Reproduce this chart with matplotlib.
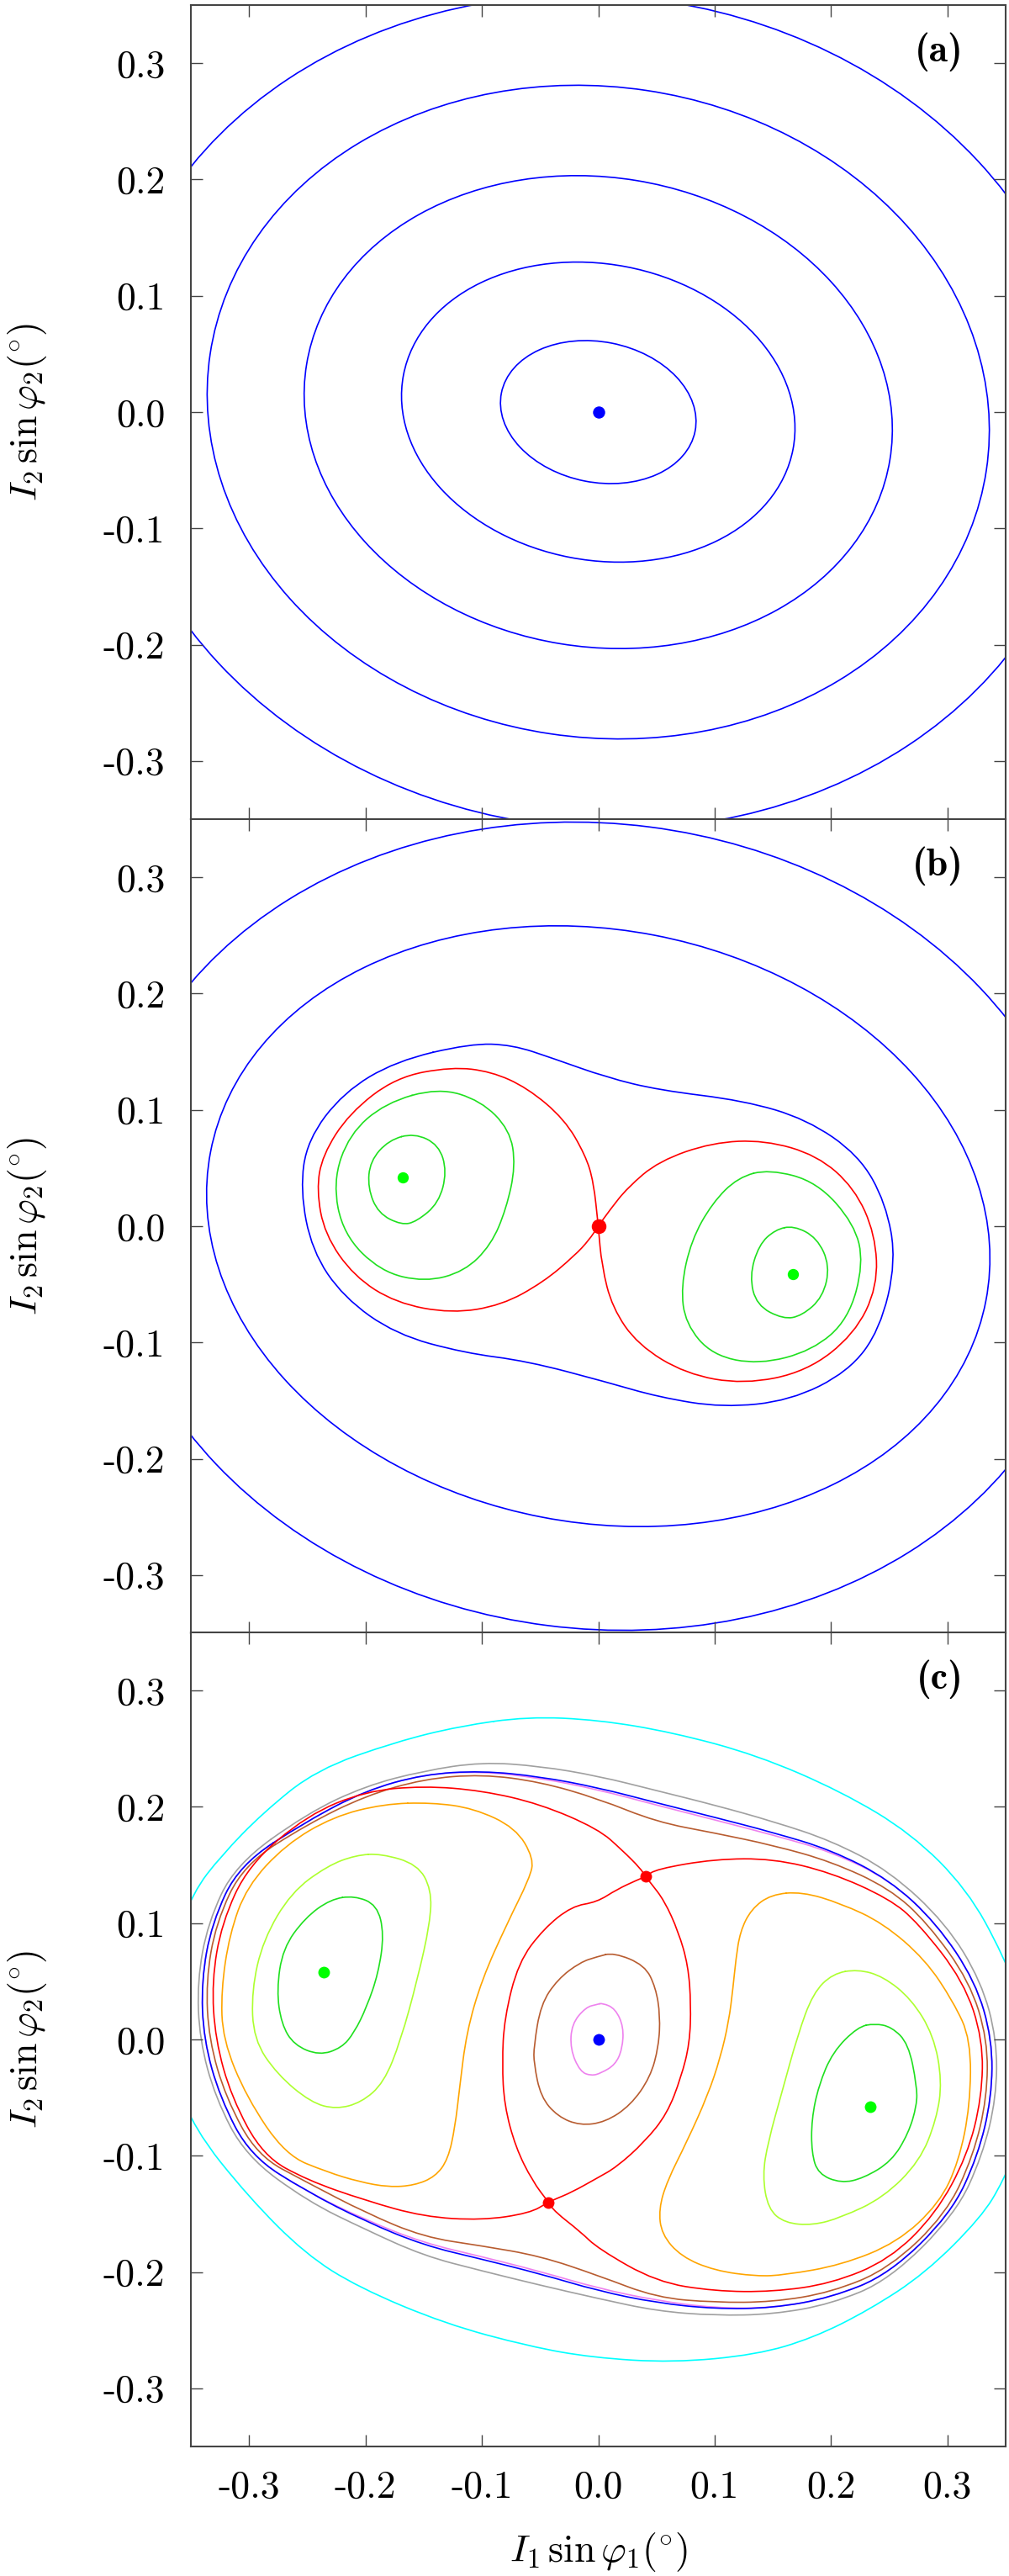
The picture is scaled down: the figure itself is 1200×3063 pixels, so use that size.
import numpy as np
import matplotlib
matplotlib.use('Agg')
import matplotlib.pyplot as plt
from matplotlib.path import Path
from matplotlib.patches import PathPatch, Ellipse

plt.rcParams['mathtext.fontset'] = 'cm'
plt.rcParams['axes.unicode_minus'] = False

# ---------------- data (data units) ----------------
ticks = [-0.3, -0.2, -0.1, 0.0, 0.1, 0.2, 0.3]
tick_labels = ['-0.3', '-0.2', '-0.1', '0.0', '0.1', '0.2', '0.3']
panel_names = ['(a)', '(b)', '(c)']

# panel (a): the orbits are tilted ellipses round the origin
a_width = [0.1696, 0.3407, 0.5078, 0.6743, 0.8440]
a_height = [0.1208, 0.2545, 0.4036, 0.5593, 0.7154]
a_angle = [-11.2, -10.8, -9.3, -8.5, -6.8]
a_centre = (0.0, 0.0)

# panel (b): two outer elliptical orbits
b_width = [0.8474, 0.6783]
b_height = [0.6922, 0.5096]
b_angle = [-7.3, -10.9]
b_peanut = [(-0.110, 0.157), (-0.074, 0.156), (-0.038, 0.144), (0.007, 0.128), (0.052, 0.117),
            (0.125, 0.108), (0.179, 0.092), (0.224, 0.061), (0.247, 0.020), (0.256, -0.030),
            (0.242, -0.089), (0.215, -0.125), (0.165, -0.150), (0.107, -0.156), (0.052, -0.147),
            (0.007, -0.134), (-0.061, -0.116), (-0.115, -0.109), (-0.174, -0.093), (-0.219, -0.061),
            (-0.246, -0.021), (-0.256, 0.031), (-0.250, 0.074), (-0.219, 0.115), (-0.174, 0.142)]
b_sep_left = [(0.0, 0.0), (-0.004, 0.038), (-0.011, 0.061), (-0.029, 0.092), (-0.061, 0.119),
              (-0.092, 0.133), (-0.126, 0.137), (-0.174, 0.128), (-0.214, 0.097), (-0.237, 0.061),
              (-0.242, 0.031), (-0.235, -0.007), (-0.210, -0.043), (-0.174, -0.066), (-0.126, -0.075),
              (-0.083, -0.068), (-0.047, -0.048), (-0.020, -0.025), (-0.008, -0.012), (0.0, 0.0)]
b_sep_right = [(0.0, 0.0), (0.003, -0.034), (0.012, -0.070), (0.034, -0.102), (0.075, -0.127),
               (0.125, -0.136), (0.179, -0.125), (0.220, -0.093), (0.240, -0.052), (0.238, -0.007),
               (0.220, 0.033), (0.188, 0.061), (0.143, 0.074), (0.098, 0.072), (0.052, 0.056),
               (0.025, 0.033), (0.010, 0.014), (0.0, 0.0)]
b_green_left_out = [(-0.137, 0.119), (-0.101, 0.108), (-0.076, 0.083), (-0.071, 0.052), (-0.079, 0.015),
                    (-0.092, -0.016), (-0.115, -0.039), (-0.149, -0.048), (-0.187, -0.039),
                    (-0.219, -0.007), (-0.228, 0.038), (-0.214, 0.079), (-0.183, 0.106)]
b_green_left_in = [(-0.158, 0.080), (-0.137, 0.070), (-0.130, 0.047), (-0.137, 0.020), (-0.156, 0.004),
                   (-0.169, 0.001), (-0.189, 0.011), (-0.198, 0.033), (-0.196, 0.056), (-0.180, 0.074)]
b_green_right_out = [(0.147, 0.049), (0.188, 0.038), (0.220, 0.002), (0.228, -0.032), (0.215, -0.080),
                     (0.184, -0.107), (0.138, -0.119), (0.098, -0.111), (0.075, -0.084), (0.071, -0.052),
                     (0.080, -0.012), (0.098, 0.020), (0.120, 0.042)]
b_green_right_in = [(0.168, 0.0005), (0.188, -0.010), (0.199, -0.034), (0.193, -0.061), (0.175, -0.077),
                    (0.159, -0.080), (0.136, -0.068), (0.130, -0.043), (0.138, -0.016), (0.152, -0.003)]
b_saddle = (0.0, 0.0)
b_centres = [(-0.168, 0.042), (0.167, -0.041)]

# panel (c) outer bands, read at the same stations:
# top edge at x = -0.25..0.25, right side at y = 0.1..-0.15,
# bottom at x = 0.25..-0.25, left side at y = -0.1..0.15
c_top_x = [-0.25, -0.2, -0.15, -0.1, -0.05, 0.0, 0.05, 0.1, 0.15, 0.2, 0.25]
c_right_y = [0.1, 0.05, 0.0, -0.05, -0.1, -0.15]
c_bot_x = [0.25, 0.2, 0.15, 0.1, 0.05, 0.0, -0.05, -0.1, -0.15, -0.2, -0.25]
c_left_y = [-0.1, -0.05, 0.0, 0.05, 0.1, 0.15]

gray_top = [0.1945, 0.2180, 0.2310, 0.2385, 0.2350, 0.2265, 0.2140, 0.2015, 0.1875, 0.1710, 0.1450]
gray_right = [0.2985, 0.3290, 0.3425, 0.3420, 0.3300, 0.3070]
gray_bot = [-0.2068, -0.2275, -0.2364, -0.2374, -0.2335, -0.2228, -0.2113, -0.1990, -0.1860, -0.1635, -0.1390]
gray_left = [-0.3030, -0.3290, -0.3425, -0.3445, -0.3355, -0.3120]

blue_top = [0.1880, 0.2140, 0.2280, 0.2310, 0.2260, 0.2165, 0.2035, 0.1910, 0.1780, 0.1630, 0.1375]
blue_right = [0.2905, 0.3240, 0.3385, 0.3380, 0.3262, 0.3030]
blue_bot = [-0.2018, -0.2220, -0.2310, -0.2317, -0.2265, -0.2162, -0.2015, -0.1890, -0.1770, -0.1565, -0.1310]
blue_left = [-0.2990, -0.3250, -0.3390, -0.3410, -0.3320, -0.3085]

violet_top = [0.1880, 0.2140, 0.2280, 0.2305, 0.2248, 0.2148, 0.2015, 0.1888, 0.1758, 0.1615, 0.1375]
violet_right = blue_right
violet_bot = [-0.2018, -0.2220, -0.2310, -0.2310, -0.2245, -0.2140, -0.1995, -0.1868, -0.1750, -0.1552, -0.1310]
violet_left = blue_left

brown_top = [0.1850, 0.2095, 0.2240, 0.2280, 0.2215, 0.2070, 0.1870, 0.1775, 0.1670, 0.1530, 0.1300]
brown_right = [0.2830, 0.3190, 0.3345, 0.3340, 0.3222, 0.2990]
brown_bot = [-0.1970, -0.2175, -0.2258, -0.2262, -0.2220, -0.2030, -0.1862, -0.1775, -0.1700, -0.1490, -0.1230]
brown_left = [-0.2930, -0.3200, -0.3345, -0.3370, -0.3285, -0.3050]

c_saddles = [(0.0406, 0.140), (-0.0428, -0.140)]
# separatrix: outer branch on the right (upper saddle -> right side -> lower saddle)
sep_r_top_x = [0.05, 0.1, 0.15, 0.2, 0.25]
sep_r_top_y = [0.1465, 0.1551, 0.1555, 0.1435, 0.1210]
sep_r_right = [0.2750, 0.3140, 0.3305, 0.3295, 0.3170, 0.2900]
sep_r_bot_x = [0.25, 0.2, 0.15, 0.1, 0.05, 0.0, -0.0156, -0.0372]
sep_r_bot_y = [-0.1895, -0.2100, -0.2170, -0.2165, -0.2085, -0.1800, -0.1651, -0.1482]
# outer branch on the left (upper saddle -> left side -> lower saddle)
sep_l_top_x = [0.0363, 0.0206, 0.0, -0.05, -0.1, -0.15, -0.2, -0.25]
sep_l_top_y = [0.147, 0.1627, 0.1810, 0.2025, 0.2140, 0.2180, 0.2135, 0.1929]
sep_l_left = [0.15, 0.1, 0.05, 0.0, -0.05, -0.1]
sep_l_left_x = [-0.3005, -0.3235, -0.3320, -0.3290, -0.3150, -0.2880]
sep_l_bot_x = [-0.25, -0.2, -0.15, -0.1, -0.059]
sep_l_bot_y = [-0.1210, -0.1385, -0.1525, -0.1555, -0.1494]
c_sep_lens_left = [(-0.0428, -0.140), (-0.0566, -0.1217), (-0.071, -0.0928), (-0.0807, -0.0566),
                   (-0.0826, -0.0205), (-0.0807, 0.0181), (-0.0686, 0.0663), (-0.0469, 0.0952),
                   (-0.0228, 0.1145), (-0.0011, 0.1181), (0.0158, 0.1289), (0.0339, 0.1373),
                   (0.0406, 0.140)]
c_sep_lens_right = [(0.0406, 0.140), (0.0447, 0.135), (0.0568, 0.1193), (0.0688, 0.0928),
                    (0.0772, 0.0639), (0.0797, 0.0301), (0.0785, -0.0036), (0.0712, -0.0325),
                    (0.0592, -0.0639), (0.0399, -0.088), (0.0158, -0.1097), (-0.0011, -0.1193),
                    (-0.0228, -0.1314), (-0.0372, -0.1374), (-0.0428, -0.140)]

c_cyan = [(-0.0606, 0.2776), (0.0, 0.2748), (0.064, 0.264), (0.136, 0.2446), (0.2086, 0.2133),
          (0.2689, 0.1772), (0.317, 0.129), (0.348, 0.0723), (0.368, 0.02), (0.372, -0.03),
          (0.365, -0.08), (0.348, -0.1217), (0.329, -0.153), (0.281, -0.201), (0.2327, -0.2326),
          (0.1845, -0.2567), (0.136, -0.2711), (0.064, -0.2779), (-0.005, -0.2736), (-0.059, -0.264),
          (-0.1313, -0.2446), (-0.206, -0.2133), (-0.2518, -0.1844), (-0.30, -0.136),
          (-0.3482, -0.0759), (-0.368, -0.02), (-0.372, 0.03), (-0.365, 0.08), (-0.3482, 0.1265),
          (-0.324, 0.1579), (-0.288, 0.1950), (-0.242, 0.2320), (-0.1736, 0.2560), (-0.119, 0.2694)]
c_orange_left = [(-0.1433, 0.2037), (-0.1071, 0.1988), (-0.071, 0.182), (-0.0553, 0.1555),
                 (-0.059, 0.1386), (-0.0782, 0.1), (-0.0999, 0.0518), (-0.1132, 0.006),
                 (-0.1192, -0.0422), (-0.1230, -0.0750), (-0.1290, -0.1030), (-0.1400, -0.1180),
                 (-0.1580, -0.1255), (-0.1800, -0.1270), (-0.2050, -0.1225), (-0.2330, -0.1140),
                 (-0.2686, -0.0995), (-0.3020, -0.0500), (-0.3226, 0.0), (-0.3240, 0.0422),
                 (-0.3168, 0.0904), (-0.3020, 0.1314), (-0.2686, 0.1675), (-0.2277, 0.1916),
                 (-0.1843, 0.2025)]
c_orange_right = [(0.1749, 0.127), (0.2086, 0.1169), (0.2447, 0.1), (0.2809, 0.0687), (0.305, 0.0325),
                  (0.3201, 0.0), (0.3195, -0.0566), (0.3098, -0.1048),
                  (0.293, -0.141), (0.2568, -0.1747), (0.2086, -0.194), (0.1604, -0.2025),
                  (0.136, -0.2037), (0.1001, -0.1988), (0.0713, -0.1868), (0.0544, -0.1675),
                  (0.052, -0.1458), (0.0592, -0.1217), (0.0761, -0.088), (0.0941, -0.048),
                  (0.1049, -0.0157), (0.1122, 0.0157), (0.1158, 0.0446), (0.1182, 0.0687),
                  (0.1219, 0.0928), (0.1315, 0.1121), (0.1484, 0.1246)]
c_ygreen_left = [(-0.1867, 0.1598), (-0.1553, 0.1506), (-0.1433, 0.1289), (-0.1445, 0.1000),
                 (-0.1553, 0.0518), (-0.1698, -0.0012), (-0.1843, -0.0374), (-0.2035, -0.0542),
                 (-0.2252, -0.0600), (-0.2469, -0.0542), (-0.2758, -0.0301), (-0.2961, 0.0),
                 (-0.2978, 0.0422), (-0.2879, 0.0856), (-0.2638, 0.1265), (-0.2325, 0.1494),
                 (-0.2084, 0.1584)]
c_ygreen_right = [(0.223, 0.0603), (0.2447, 0.0542), (0.2689, 0.0349), (0.2881, 0.0036),
                  (0.2954, -0.036), (0.2906, -0.0687), (0.2762, -0.1048), (0.2447, -0.1362),
                  (0.2086, -0.1531), (0.1845, -0.1598), (0.1604, -0.1579), (0.1459, -0.1458),
                  (0.1411, -0.1169), (0.1459, -0.088), (0.158, -0.0446), (0.1713, 0.0036),
                  (0.1845, 0.0398), (0.2014, 0.0566)]
c_green_left = [(-0.2096, 0.1236), (-0.190, 0.1157), (-0.184, 0.0904), (-0.189, 0.0566),
                (-0.199, 0.0277), (-0.2096, 0.006), (-0.2204, -0.0072), (-0.2397, -0.0137),
                (-0.2614, -0.0048), (-0.2722, 0.0133), (-0.2763, 0.0422), (-0.2710, 0.0783),
                (-0.2517, 0.1048), (-0.2300, 0.1205)]
c_green_right = [(0.2375, 0.0137), (0.252, 0.0108), (0.2665, -0.0036), (0.2737, -0.0398),
                 (0.2737, -0.0566), (0.2665, -0.0807), (0.252, -0.1048), (0.2279, -0.1193),
                 (0.2086, -0.1236), (0.189, -0.1157), (0.1833, -0.0976), (0.1833, -0.0687),
                 (0.1893, -0.0398), (0.2014, -0.0108), (0.223, 0.0108)]
c_brown_in = [(0.0134, 0.0747), (0.0399, 0.0639), (0.0494, 0.0446), (0.0532, 0.0205), (0.0519, -0.006),
              (0.0447, -0.0325), (0.0278, -0.0566), (0.0061, -0.0711), (-0.0156, -0.074),
              (-0.0348, -0.0663), (-0.0494, -0.0494), (-0.0553, -0.0205), (-0.0553, -0.006),
              (-0.0494, 0.0301), (-0.0348, 0.0518), (-0.0156, 0.0663), (-0.0011, 0.0711)]
c_violet_in = [(0.0037, 0.0313), (0.0146, 0.0265), (0.0218, 0.0108), (0.0206, -0.0084), (0.0146, -0.0217),
               (0.0025, -0.0289), (-0.0059, -0.0313), (-0.0156, -0.0277), (-0.024, -0.0084),
               (-0.0228, 0.0133), (-0.0107, 0.0277), (-0.0011, 0.0301)]
c_centre = (0.0, 0.0)
c_islands = [(-0.2356, 0.0576), (0.2334, -0.0581)]

BLUE = '#0000ff'
RED = '#ff0000'
GREEN = '#00ff00'
GREEN_LINE = '#1fe01f'
YGREEN = '#adff2f'
ORANGE = '#ffa500'
BROWN = '#b85c30'
VIOLET = '#ee82ee'
GRAY = '#a0a0a0'
CYAN = '#00ffff'
LW = 1.2


def band(top, right, bot, left):
    # one closed band from its four station lists
    pts = list(zip(c_top_x, top)) + list(zip(right, c_right_y))
    pts += list(zip(c_bot_x, bot)) + list(zip(left, c_left_y))
    return pts


def smooth_path(pts, closed=True):
    # quadratic bezier chain through the midpoints of the read vertices
    p = np.asarray(pts, dtype=float)
    if closed:
        m = (p + np.roll(p, -1, axis=0)) / 2
        verts = [m[-1]]
        codes = [Path.MOVETO]
        for v, mm in zip(p, m):
            verts += [v, mm]
            codes += [Path.CURVE3, Path.CURVE3]
    else:
        m = (p[:-1] + p[1:]) / 2
        verts = [p[0], m[0]]
        codes = [Path.MOVETO, Path.LINETO]
        for v, mm in zip(p[1:-1], m[1:]):
            verts += [v, mm]
            codes += [Path.CURVE3, Path.CURVE3]
        verts.append(p[-1])
        codes.append(Path.LINETO)
    return Path(verts, codes)


def curve(ax, pts, color, closed=True, lw=LW):
    ax.add_patch(PathPatch(smooth_path(pts, closed), fill=False, ec=color, lw=lw,
                           capstyle='round', joinstyle='round'))


def ellipse(ax, w, h, ang, color, lw=LW):
    ax.add_patch(Ellipse((0, 0), w, h, angle=ang, fill=False, ec=color, lw=lw))


def dot(ax, pt, color, size):
    ax.plot([pt[0]], [pt[1]], 'o', color=color, ms=size, mec='none', zorder=5)


W, H = 1200, 3063
fig = plt.figure(figsize=(W / 100, H / 100), dpi=100)
left, width = 227 / W, 969 / W
tops = [6, 974, 1941]
ph = 968
axs = []
for t in tops:
    ax = fig.add_axes([left, 1 - (t + ph) / H, width, ph / H])
    axs.append(ax)

for i, ax in enumerate(axs):
    ax.set_xlim(-0.35, 0.35)
    ax.set_ylim(-0.35, 0.35)
    ax.set_xticks(ticks)
    ax.set_yticks(ticks)
    ax.set_yticklabels(tick_labels, family='cmr10', fontsize=33)
    if i == 2:
        ax.set_xticklabels(tick_labels, family='cmr10', fontsize=33)
    else:
        ax.set_xticklabels([])
    ax.tick_params(direction='in', top=True, right=True, length=10, width=1.0,
                   color='#444444', pad=20)
    ax.tick_params(axis='y', pad=22)
    for s in ax.spines.values():
        s.set_color('#444444')
        s.set_linewidth(1.5)
    ax.text(0.3137, 0.3012, panel_names[i], family='cmb10', fontsize=33,
            ha='right', va='baseline')
    fig.text(33 / W, 1 - (tops[i] + ph / 2) / H, r'$I_2\,\sin\varphi_2({}^{\circ})$',
             rotation=90, ha='center', va='center', fontsize=33)

# (a)
ax = axs[0]
for w, h, ang in zip(a_width, a_height, a_angle):
    ellipse(ax, w, h, ang, BLUE)
dot(ax, a_centre, BLUE, 10.4)

# (b)
ax = axs[1]
for w, h, ang in zip(b_width, b_height, b_angle):
    ellipse(ax, w, h, ang, BLUE)
curve(ax, b_peanut, BLUE)
curve(ax, b_sep_left, RED, closed=False)
curve(ax, b_sep_right, RED, closed=False)
for ring in [b_green_left_out, b_green_left_in, b_green_right_out, b_green_right_in]:
    curve(ax, ring, GREEN_LINE)
dot(ax, b_saddle, RED, 12.6)
for c in b_centres:
    dot(ax, c, GREEN, 9.6)

# (c)
ax = axs[2]
curve(ax, c_cyan, CYAN)
curve(ax, band(gray_top, gray_right, gray_bot, gray_left), GRAY)
curve(ax, band(violet_top, violet_right, violet_bot, violet_left), VIOLET)
curve(ax, band(blue_top, blue_right, blue_bot, blue_left), BLUE)
curve(ax, band(brown_top, brown_right, brown_bot, brown_left), BROWN)

sep_right = ([c_saddles[0]] + list(zip(sep_r_top_x, sep_r_top_y)) + list(zip(sep_r_right, c_right_y))
             + list(zip(sep_r_bot_x, sep_r_bot_y)) + [c_saddles[1]])
sep_left = ([c_saddles[0]] + list(zip(sep_l_top_x, sep_l_top_y)) + list(zip(sep_l_left_x, sep_l_left))
            + list(zip(sep_l_bot_x, sep_l_bot_y)) + [c_saddles[1]])
for br in [sep_right, sep_left, c_sep_lens_left, c_sep_lens_right]:
    curve(ax, br, RED, closed=False)
for ring, col in [(c_orange_left, ORANGE), (c_orange_right, ORANGE), (c_ygreen_left, YGREEN),
                  (c_ygreen_right, YGREEN), (c_green_left, GREEN_LINE), (c_green_right, GREEN_LINE),
                  (c_brown_in, BROWN), (c_violet_in, VIOLET)]:
    curve(ax, ring, col)
dot(ax, c_centre, BLUE, 10)
for s in c_saddles:
    dot(ax, s, RED, 10)
for c in c_islands:
    dot(ax, c, GREEN, 10)

fig.text(711.5 / W, 1 - 3035 / H, r'$I_1\,\sin\varphi_1({}^{\circ})$', ha='center', va='center',
         fontsize=33)

fig.savefig('out.png', dpi=100)
